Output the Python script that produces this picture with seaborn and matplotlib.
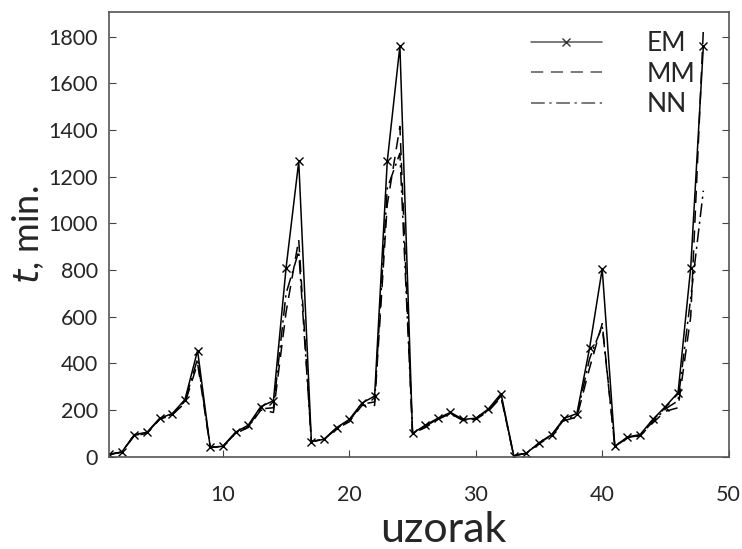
import numpy as np
import pandas as pd
import seaborn as sns
import matplotlib.pyplot as plt

uzorak = list(range(1, 49))

em = [10, 20, 95, 105, 165, 185, 245, 455, 40, 45,
      105, 135, 215, 240, 810, 1265, 65, 75, 125, 160,
      230, 260, 1265, 1760, 100, 135, 165, 190, 160, 165,
      205, 270, 5, 15, 60, 95, 165, 185, 465, 805,
      45, 85, 95, 160, 215, 275, 810, 1760]

mm = [10, 20, 90, 100, 160, 180, 230, 400, 40, 45,
      100, 125, 200, 190, 620, 930, 65, 75, 120, 150,
      220, 220, 1080, 1415, 100, 125, 160, 185, 155, 160,
      195, 255, 5, 15, 55, 90, 155, 170, 380, 570,
      45, 80, 90, 145, 195, 210, 600, 1830]

nn = [10, 20, 92, 102, 162, 182, 238, 420, 40, 45,
      102, 130, 205, 210, 700, 880, 65, 75, 122, 155,
      225, 235, 1150, 1300, 100, 130, 162, 187, 157, 162,
      200, 260, 5, 15, 58, 92, 160, 178, 420, 560,
      45, 82, 92, 150, 205, 240, 680, 1140]

df = pd.DataFrame({'uzorak': uzorak, 'EM': em, 'MM': mm, 'NN': nn})

sns.set_style('white')
plt.rcParams['font.family'] = ['Lato', 'DejaVu Sans']

fig = plt.figure(figsize=(7.42, 5.49), dpi=100)
ax = fig.add_axes([0.147, 0.168, 0.835, 0.810])

sns.lineplot(data=df, x='uzorak', y='EM', ax=ax, color='black', lw=1.1,
             marker='x', markersize=6, mew=1.0, markeredgecolor='black',
             label='EM')
sns.lineplot(data=df, x='uzorak', y='MM', ax=ax, color='black', lw=1.1,
             label='MM')
sns.lineplot(data=df, x='uzorak', y='NN', ax=ax, color='black', lw=1.1,
             label='NN')

styles = ['-', (0, (8, 5)), (0, (9, 3, 1.5, 3))]
for ln, st in zip(ax.lines, styles):
    ln.set_linestyle(st)

ax.set_xlim(1, 50)
ax.set_ylim(0, 1905)
ax.set_xticks([10, 20, 30, 40, 50])
ax.set_yticks(range(0, 1801, 200))
ax.tick_params(axis='both', direction='in', length=5, labelsize=15.5, color='#444444')
ax.tick_params(axis='x', pad=20, bottom=True)
ax.tick_params(axis='y', pad=8, left=True, right=True)

for s in ax.spines.values():
    s.set_color('#555555')
    s.set_linewidth(1.2)

ax.set_xlabel('uzorak', fontsize=31)
ax.xaxis.set_label_coords(0.54, -0.122)
ax.set_ylabel('$t$, min.', fontsize=26, labelpad=2)

leg = ax.legend(loc='upper right', bbox_to_anchor=(0.985, 1.01), frameon=False,
                fontsize=19, handlelength=2.7, labelspacing=0.2,
                handletextpad=1.7)
for h, st in zip(leg.get_lines(), styles):
    h.set_color('#555555')
    h.set_linestyle(st)
    h.set_markeredgecolor('#333333')

fig.savefig('out.png', dpi=100)
